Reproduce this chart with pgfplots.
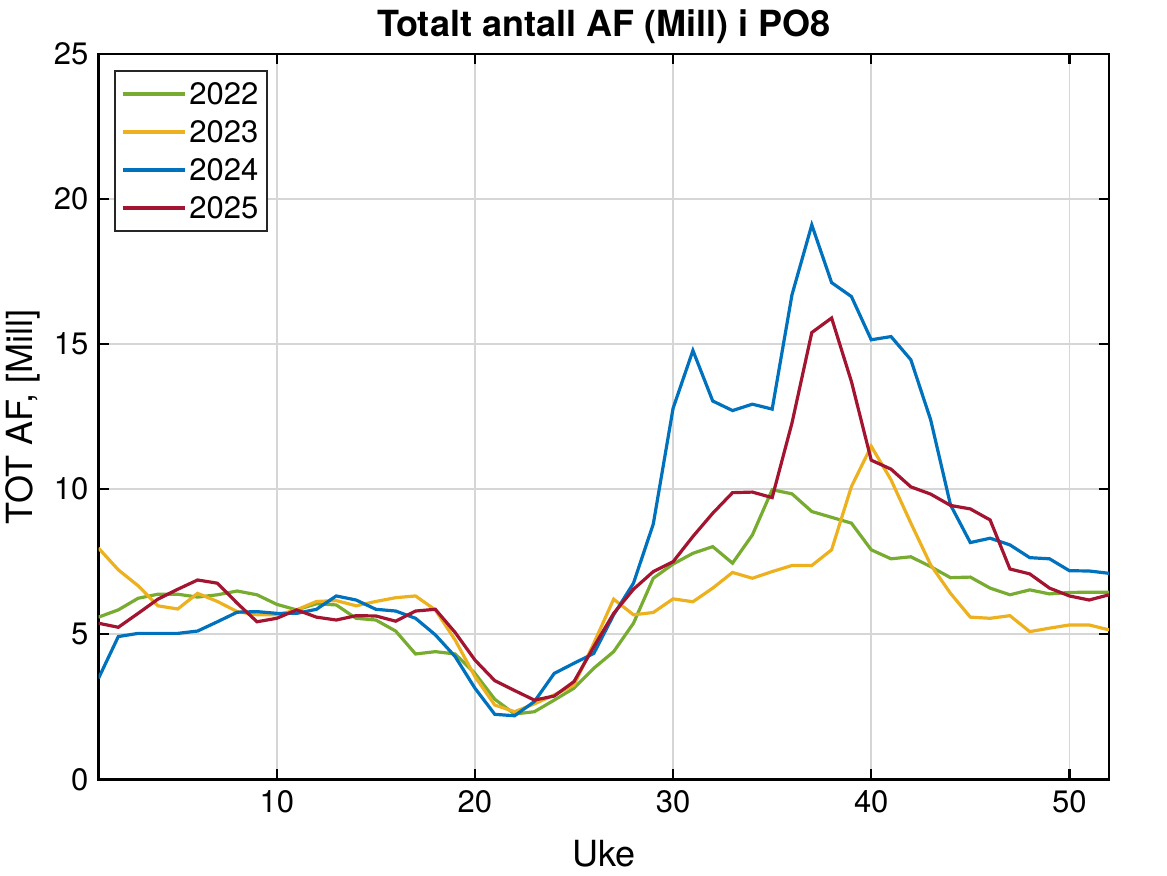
\documentclass[border=0pt]{standalone}
\usepackage{pgfplots}
\pgfplotsset{compat=1.18}
\usepackage{pgfplotstable}
\usepackage{fontspec}
\setmainfont{TeX Gyre Heros}
\definecolor{c22}{rgb}{0.466,0.674,0.188}
\definecolor{c23}{rgb}{0.929,0.694,0.125}
\definecolor{c24}{rgb}{0,0.447,0.741}
\definecolor{c25}{rgb}{0.635,0.078,0.184}
\pgfplotstableread{
w y22 y23 y24 y25
1 5.59 7.97 3.48 5.38
2 5.84 7.22 4.92 5.24
3 6.24 6.67 5.03 5.72
4 6.38 5.98 5.03 6.21
5 6.38 5.87 5.03 6.55
6 6.28 6.41 5.11 6.87
7 6.36 6.13 5.43 6.76
8 6.49 5.78 5.76 6.07
9 6.36 5.67 5.78 5.43
10 6.03 5.67 5.72 5.55
11 5.84 5.84 5.72 5.84
12 6.05 6.13 5.86 5.59
13 6.01 6.16 6.32 5.49
14 5.55 5.98 6.18 5.64
15 5.49 6.13 5.86 5.63
16 5.11 6.26 5.80 5.45
17 4.32 6.32 5.55 5.80
18 4.40 5.84 4.98 5.86
19 4.32 4.80 4.23 5.06
20 3.65 3.54 3.14 4.11
21 2.76 2.56 2.24 3.40
22 2.25 2.33 2.19 3.06
23 2.33 2.60 2.68 2.73
24 2.73 2.91 3.65 2.87
25 3.14 3.25 4.00 3.37
26 3.83 4.69 4.34 4.57
27 4.40 6.21 5.67 5.72
28 5.38 5.67 6.76 6.55
29 6.93 5.75 8.80 7.16
30 7.42 6.22 12.79 7.50
31 7.79 6.12 14.78 8.37
32 8.02 6.59 13.04 9.17
33 7.45 7.13 12.71 9.88
34 8.42 6.93 12.93 9.90
35 9.98 7.16 12.76 9.71
36 9.84 7.37 16.70 12.28
37 9.23 7.37 19.11 15.40
38 9.03 7.91 17.12 15.90
39 8.83 10.09 16.64 13.71
40 7.91 11.48 15.15 11.00
41 7.60 10.32 15.26 10.69
42 7.67 8.83 14.46 10.08
43 7.33 7.39 12.39 9.83
44 6.95 6.41 9.46 9.44
45 6.97 5.59 8.16 9.32
46 6.59 5.55 8.31 8.94
47 6.36 5.64 8.08 7.25
48 6.53 5.09 7.64 7.08
49 6.39 5.21 7.60 6.59
50 6.44 5.32 7.19 6.32
51 6.45 5.32 7.18 6.18
52 6.45 5.15 7.10 6.36
}\datatable
\begin{document}
\begin{tikzpicture}
\useasboundingbox (0,0) rectangle (583.5pt,437.5pt);
\begin{axis}[
  at={(49.25pt,47.85pt)}, anchor=south west,
  scale only axis, width=505.25pt, height=362.65pt,
  xmin=1, xmax=52, ymin=0, ymax=25,
  xtick={10,20,30,40,50}, ytick={0,5,10,15,20,25},
  grid=major, major grid style={black!16, line width=0.8pt},
  axis line style={line width=1.2pt},
  major tick length=5pt,
  every tick/.style={black, line width=1.2pt},
  tick align=inside,
  /pgf/number format/assume math mode=true,
  ticklabel style={font=\fontsize{15.5}{15.5}\selectfont},
  xticklabel style={yshift=-2pt},
  yticklabel style={xshift=-1.5pt},
  every axis title shift=0pt,
  title={\textbf{Totalt antall AF (Mill) i PO8}},
  title style={at={(axis description cs:0.5,1.0241)}, anchor=base, font=\fontsize{18}{18}\selectfont},
  xlabel={Uke},
  xlabel style={at={(axis description cs:0.5,-0.1205)}, anchor=base, font=\fontsize{18}{18}\selectfont},
  ylabel={TOT AF, [Mill]},
  ylabel style={at={(axis description cs:-0.0649,0.5)}, anchor=base, rotate=0, font=\fontsize{18}{18}\selectfont},
  legend style={at={(axis description cs:0.0153,0.978)}, anchor=north west,
    draw=black!85, line width=1pt, font=\fontsize{15.5}{15.5}\selectfont,
    row sep=5pt, inner xsep=3pt, inner ysep=4.5pt,
    nodes={text height=11pt, text depth=0pt, inner sep=1.5pt}},
  legend cell align=left,
  legend image code/.code={\draw[#1, line width=1.7pt] (0pt,0pt) -- (31pt,0pt);},
  every axis plot/.append style={line width=1.6pt},
]
\addplot[c22, sharp plot] table[x=w, y=y22] {\datatable};
\addplot[c23, sharp plot] table[x=w, y=y23] {\datatable};
\addplot[c24, sharp plot] table[x=w, y=y24] {\datatable};
\addplot[c25, sharp plot] table[x=w, y=y25] {\datatable};
\legend{2022,2023,2024,2025}
\end{axis}
\end{tikzpicture}
\end{document}
